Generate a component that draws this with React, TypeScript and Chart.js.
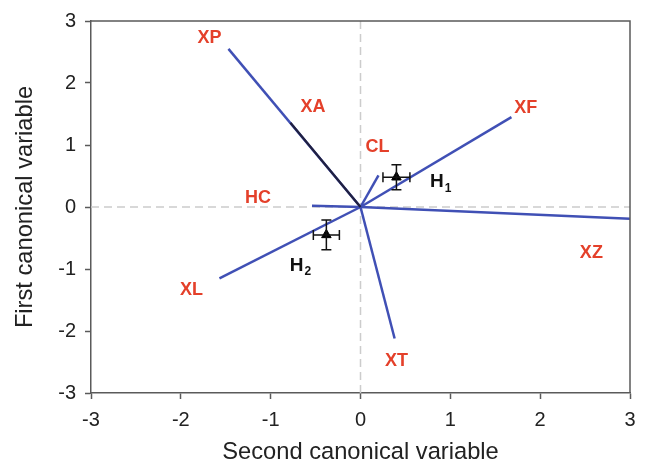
import React, { useEffect, useRef } from "react";
import { Chart, registerables } from "chart.js";

Chart.register(...registerables);

// Vector endpoints (second canonical variable = x, first = y)
const vectorNames = ["XP", "XA", "XF", "CL", "HC", "XL", "XT", "XZ"];
const vectorX = [-1.47, -0.78, 1.68, 0.2, -0.54, -1.57, 0.38, 3.0];
const vectorY = [2.55, 1.36, 1.45, 0.51, 0.02, -1.15, -2.12, -0.19];

// Label anchor points (data coordinates)
const labelX = [-1.68, -0.53, 1.84, 0.19, -1.14, -1.88, 0.4, 2.57];
const labelY = [2.73, 1.62, 1.6, 0.97, 0.14, -1.34, -2.48, -0.75];

// Group centroids with error bars
const groupNames = ["H", "H"];
const groupSub = ["1", "2"];
const groupX = [0.4, -0.38];
const groupY = [0.48, -0.45];
const groupXErr = [0.15, 0.145];
const groupYErr = [0.2, 0.24];
const groupLabelX = [0.85, -0.71];
const groupLabelY = [0.4, -0.94];

const tickValues = [-3, -2, -1, 0, 1, 2, 3];

const FONT = "'Liberation Sans', Arial, Helvetica, sans-serif";
const BLUE = "#4050b5";
const DARK = "#202040";
const RED = "#e4402a";
const AXIS = "#5a5a5a";

export default function App() {
  const ref = useRef<HTMLCanvasElement | null>(null);

  useEffect(() => {
    document.body.style.margin = "0";
    const canvas = ref.current;
    if (!canvas) return;

    const datasets: any[] = vectorNames.map((name, i) => ({
      label: name,
      data: [
        { x: 0, y: 0 },
        { x: vectorX[i], y: vectorY[i] },
      ],
      showLine: true,
      borderColor: name === "XA" ? DARK : BLUE,
      borderWidth: name === "XA" ? 2.2 : 2.5,
      pointRadius: 0,
      order: name === "XA" ? 0 : 1,
    }));

    datasets.push({
      label: "groups",
      data: groupX.map((x, i) => ({ x, y: groupY[i] })),
      showLine: false,
      pointStyle: "triangle",
      pointRadius: 5.5,
      backgroundColor: "#000",
      borderColor: "#000",
      borderWidth: 1,
      order: -1,
    });

    const framePlugin = {
      id: "frameAndZero",
      beforeDatasetsDraw(chart: any) {
        const { ctx, chartArea, scales } = chart;
        const x0 = scales.x.getPixelForValue(0);
        const y0 = scales.y.getPixelForValue(0);
        ctx.save();
        ctx.strokeStyle = "#cccccc";
        ctx.lineWidth = 1.5;
        ctx.setLineDash([8, 5]);
        ctx.beginPath();
        ctx.moveTo(x0, chartArea.top);
        ctx.lineTo(x0, chartArea.bottom);
        ctx.moveTo(chartArea.left, y0);
        ctx.lineTo(chartArea.right, y0);
        ctx.stroke();
        ctx.restore();
      },
      afterDraw(chart: any) {
        const { ctx, chartArea } = chart;
        ctx.save();
        ctx.strokeStyle = AXIS;
        ctx.lineWidth = 1.5;
        ctx.beginPath();
        ctx.moveTo(chartArea.left, chartArea.top);
        ctx.lineTo(chartArea.right, chartArea.top);
        ctx.lineTo(chartArea.right, chartArea.bottom);
        ctx.stroke();
        ctx.restore();
      },
    };

    const errorPlugin = {
      id: "errorBars",
      afterDatasetsDraw(chart: any) {
        const { ctx, scales } = chart;
        const sx = scales.x;
        const sy = scales.y;
        ctx.save();
        ctx.strokeStyle = "#111";
        ctx.lineWidth = 1.5;
        const cap = 5;
        groupX.forEach((gx, i) => {
          const gy = groupY[i];
          const cx = sx.getPixelForValue(gx);
          const cy = sy.getPixelForValue(gy);
          const xl = sx.getPixelForValue(gx - groupXErr[i]);
          const xr = sx.getPixelForValue(gx + groupXErr[i]);
          const yt = sy.getPixelForValue(gy + groupYErr[i]);
          const yb = sy.getPixelForValue(gy - groupYErr[i]);
          ctx.beginPath();
          ctx.moveTo(xl, cy);
          ctx.lineTo(xr, cy);
          ctx.moveTo(xl, cy - cap);
          ctx.lineTo(xl, cy + cap);
          ctx.moveTo(xr, cy - cap);
          ctx.lineTo(xr, cy + cap);
          ctx.moveTo(cx, yt);
          ctx.lineTo(cx, yb);
          ctx.moveTo(cx - cap, yt);
          ctx.lineTo(cx + cap, yt);
          ctx.moveTo(cx - cap, yb);
          ctx.lineTo(cx + cap, yb);
          ctx.stroke();
        });
        ctx.restore();
      },
    };

    const labelPlugin = {
      id: "vectorLabels",
      afterDatasetsDraw(chart: any) {
        const { ctx, scales } = chart;
        ctx.save();
        ctx.textAlign = "center";
        ctx.textBaseline = "middle";
        ctx.fillStyle = RED;
        ctx.font = `bold 18px ${FONT}`;
        vectorNames.forEach((name, i) => {
          ctx.fillText(
            name,
            scales.x.getPixelForValue(labelX[i]),
            scales.y.getPixelForValue(labelY[i])
          );
        });
        ctx.fillStyle = "#111";
        groupNames.forEach((name, i) => {
          const px = scales.x.getPixelForValue(groupLabelX[i]);
          const py = scales.y.getPixelForValue(groupLabelY[i]);
          ctx.font = `bold 19px ${FONT}`;
          ctx.textAlign = "center";
          ctx.fillText(name, px, py);
          const w = ctx.measureText(name).width;
          ctx.font = `bold 12px ${FONT}`;
          ctx.textAlign = "left";
          ctx.fillText(groupSub[i], px + w / 2 + 1, py + 6);
        });
        ctx.restore();
      },
    };

    const chart = new Chart(canvas, {
      type: "scatter",
      data: { datasets },
      options: {
        animation: false,
        responsive: false,
        maintainAspectRatio: false,
        layout: { padding: { top: 17, right: 16, left: 0, bottom: 0 } },
        plugins: {
          legend: { display: false },
          tooltip: { enabled: false },
        },
        scales: {
          x: {
            type: "linear",
            min: -3,
            max: 3,
            afterBuildTicks(scale: any) {
              scale.ticks = tickValues.map((v) => ({ value: v }));
            },
            afterFit(scale: any) {
              scale.height = 71;
            },
            grid: {
              drawOnChartArea: false,
              drawTicks: true,
              tickLength: 6,
              tickColor: AXIS,
              tickWidth: 1.5,
            },
            border: { color: AXIS, width: 1.5 },
            ticks: {
              color: "#222",
              font: { family: FONT, size: 20 },
              padding: 9,
              callback: (v: any) => String(v),
            },
            title: {
              display: true,
              text: "Second canonical variable",
              color: "#222",
              font: { family: FONT, size: 23.7, lineHeight: 1 },
              padding: { top: 0, bottom: 0 },
            },
          },
          y: {
            type: "linear",
            min: -3,
            max: 3,
            afterBuildTicks(scale: any) {
              scale.ticks = tickValues.map((v) => ({ value: v }));
            },
            afterFit(scale: any) {
              scale.width = 91;
            },
            grid: {
              drawOnChartArea: false,
              drawTicks: true,
              tickLength: 6,
              tickColor: AXIS,
              tickWidth: 1.5,
            },
            border: { color: AXIS, width: 1.5 },
            ticks: {
              color: "#222",
              font: { family: FONT, size: 20 },
              padding: 9,
              callback: (v: any) => String(v),
            },
            title: {
              display: true,
              text: "First canonical variable",
              color: "#222",
              font: { family: FONT, size: 23.7, lineHeight: 1 },
              padding: { top: 14, bottom: 0 },
            },
          },
        },
      } as any,
      plugins: [framePlugin, errorPlugin, labelPlugin],
    });

    return () => chart.destroy();
  }, []);

  return (
    <div style={{ width: 646, height: 464 }}>
      <canvas ref={ref} width={646} height={464} style={{ display: "block" }} />
    </div>
  );
}
